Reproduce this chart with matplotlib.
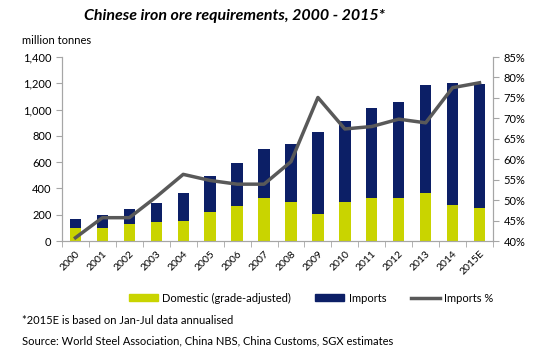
import numpy as np
import matplotlib.pyplot as plt
from matplotlib.lines import Line2D
from matplotlib.patches import Patch

years = ["2000", "2001", "2002", "2003", "2004", "2005", "2006", "2007",
         "2008", "2009", "2010", "2011", "2012", "2013", "2014", "2015E"]
domestic = [100, 100, 127, 145, 152, 223, 269, 325,
            299, 203, 299, 327, 327, 368, 274, 254]
total = [165, 198, 241, 287, 368, 497, 596, 703,
         736, 829, 911, 1010, 1060, 1187, 1202, 1195]
imports_pct = [40.8, 45.7, 45.7, 50.8, 56.3, 54.8, 53.9, 53.9,
               59.4, 75.1, 67.4, 68.0, 69.8, 68.9, 77.5, 78.7]
imports = [t - d for t, d in zip(total, domestic)]

plt.rcParams['font.family'] = ['Lato', 'DejaVu Sans']
c_dom = '#C9D400'
c_imp = '#0C1F66'
c_line = '#595959'
c_axis = '#A6A6A6'

fig = plt.figure(figsize=(5.53, 3.58), dpi=100)
W, H = 553, 358
ax = fig.add_axes([62 / W, 1 - 241 / H, (493 - 62) / W, (241 - 57) / H])
x = np.arange(len(years))
ax.bar(x, domestic, width=0.42, color=c_dom)
ax.bar(x, imports, width=0.42, bottom=domestic, color=c_imp)
ax.set_xlim(-0.5, len(years) - 0.5)
ax.set_ylim(0, 1400)
ax.set_yticks(range(0, 1401, 200))
ax.set_yticklabels([f"{v:,}" for v in range(0, 1401, 200)])
ax.set_xticks(x)
ax.set_xticklabels(years, rotation=45, ha='right', rotation_mode='anchor')
ax.set_xticks(np.arange(-0.5, len(years)), minor=True)
ax.tick_params(axis='x', which='major', length=0, pad=6, labelsize=7.5)
ax.tick_params(axis='x', which='minor', length=4, color=c_axis)
ax.tick_params(axis='y', length=4, color=c_axis, labelsize=8)

ax2 = ax.twinx()
ax2.plot(x, imports_pct, color=c_line, lw=2.5)
ax2.set_ylim(40, 85)
ax2.set_yticks(range(40, 86, 5))
ax2.set_yticklabels([f"{v}%" for v in range(40, 86, 5)])
ax2.tick_params(axis='y', length=4, color=c_axis, labelsize=8)

for a in (ax, ax2):
    a.spines['top'].set_visible(False)
    for s in ('left', 'right', 'bottom'):
        a.spines[s].set_color(c_axis)

fig.text(235 / W, 1 - 16 / H, "Chinese iron ore requirements, 2000 - 2015*",
         ha='center', va='center', fontsize=11.5, fontweight='bold', style='italic')
fig.text(22 / W, 1 - 40 / H, "million tonnes", ha='left', va='center', fontsize=8)

handles = [Patch(color=c_dom), Patch(color=c_imp), Line2D([], [], color=c_line, lw=2.5)]
fig.legend(handles, ["Domestic (grade-adjusted)", "Imports", "Imports %"],
           loc='center', bbox_to_anchor=(311 / W, 1 - 298 / H), ncol=3, frameon=False,
           fontsize=8, handlelength=2.6, handleheight=0.5, columnspacing=2.2, handletextpad=0.4)

fig.text(22 / W, 1 - 321 / H, "*2015E is based on Jan-Jul data annualised",
         ha='left', va='center', fontsize=8)
fig.text(22 / W, 1 - 341 / H, "Source: World Steel Association, China NBS, China Customs, SGX estimates",
         ha='left', va='center', fontsize=8)

fig.savefig("out.png", dpi=100)
